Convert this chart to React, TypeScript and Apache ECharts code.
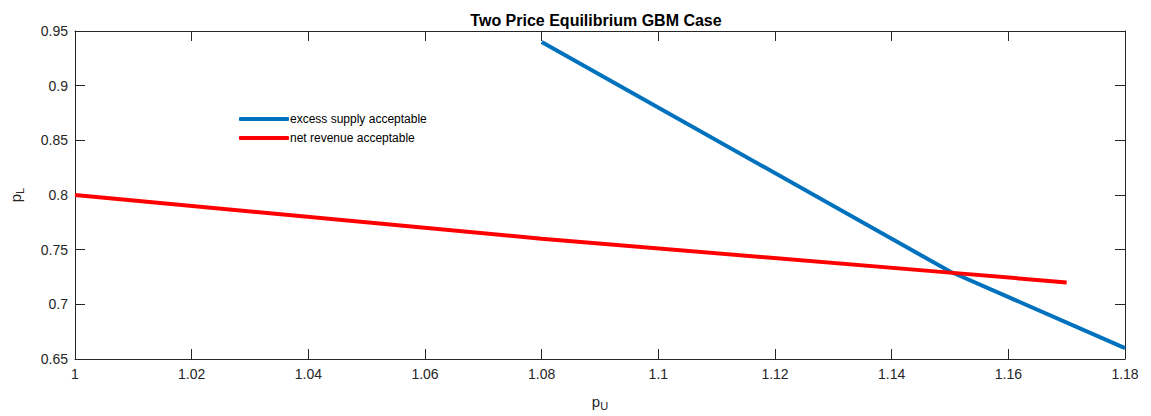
import React, { useEffect, useRef } from "react";
import * as echarts from "echarts";

// Upper price p_U (x) and lower price p_L (y) for each acceptability curve
const supplyPU = [1.08, 1.15, 1.18];
const supplyPL = [0.94, 0.73, 0.66];
const revenuePU = [1.0, 1.08, 1.15, 1.17];
const revenuePL = [0.8, 0.76, 0.729, 0.72];

const xTicks = { min: 1, max: 1.18, interval: 0.02 };
const yTicks = { min: 0.65, max: 0.95, interval: 0.05 };

const FONT = "'Liberation Sans', Arial, Helvetica, sans-serif";
const AXIS_COLOR = "#262626";

export default function App() {
  const ref = useRef<HTMLDivElement>(null);

  useEffect(() => {
    if (!ref.current) return;
    const chart = echarts.init(ref.current, undefined, { renderer: "svg" });

    const axisLine = { show: true, lineStyle: { color: AXIS_COLOR, width: 1 } };
    const axisTick = { show: true, inside: true, length: 10, lineStyle: { color: AXIS_COLOR, width: 1 } };
    const axisLabel = { color: AXIS_COLOR, fontSize: 14, fontFamily: FONT };
    const nameRich = {
      b: { fontSize: 15, color: AXIS_COLOR, fontFamily: FONT },
      s: { fontSize: 11, color: AXIS_COLOR, fontFamily: FONT, verticalAlign: "bottom", padding: [8, 0, 0, 0] },
    };

    chart.setOption({
      animation: false,
      backgroundColor: "#ffffff",
      textStyle: { fontFamily: FONT },
      title: {
        text: "Two Price Equilibrium GBM Case",
        left: 591,
        textAlign: "center",
        top: 7,
        textStyle: { fontSize: 16, fontWeight: "bold", color: "#000", fontFamily: FONT },
      },
      legend: {
        orient: "vertical",
        left: 234,
        top: 108,
        itemWidth: 50,
        itemHeight: 4,
        itemGap: 7,
        icon: "roundRect",
        textStyle: { fontSize: 12, color: "#000", fontFamily: FONT, padding: [0, 0, 0, -4] },
        data: ["excess supply acceptable", "net revenue acceptable"],
      },
      grid: { left: 73, right: 26, top: 31, bottom: 57 },
      xAxis: [
        {
          type: "value",
          ...xTicks,
          position: "bottom",
          axisLine,
          axisTick,
          axisLabel: { ...axisLabel, margin: 8 },
          splitLine: { show: false },
          name: "{b|p}{s|U}",
          nameLocation: "middle",
          nameGap: 33,
          nameTextStyle: { rich: nameRich },
        },
        {
          type: "value",
          ...xTicks,
          position: "top",
          axisLine,
          axisTick,
          axisLabel: { show: false },
          splitLine: { show: false },
        },
      ],
      yAxis: [
        {
          type: "value",
          ...yTicks,
          position: "left",
          axisLine,
          axisTick,
          axisLabel: { ...axisLabel, margin: 7 },
          splitLine: { show: false },
          name: "{b|p}{s|L}",
          nameLocation: "middle",
          nameGap: 50,
          nameRotate: 90,
          nameTextStyle: { rich: nameRich },
        },
        {
          type: "value",
          ...yTicks,
          position: "right",
          axisLine,
          axisTick,
          axisLabel: { show: false },
          splitLine: { show: false },
        },
      ],
      series: [
        {
          name: "excess supply acceptable",
          type: "line",
          data: supplyPU.map((x, i) => [x, supplyPL[i]]),
          showSymbol: false,
          symbol: "none",
          lineStyle: { color: "#0072BD", width: 4 },
          itemStyle: { color: "#0072BD" },
        },
        {
          name: "net revenue acceptable",
          type: "line",
          data: revenuePU.map((x, i) => [x, revenuePL[i]]),
          showSymbol: false,
          symbol: "none",
          lineStyle: { color: "#FF0000", width: 4 },
          itemStyle: { color: "#FF0000" },
        },
      ],
    });

    return () => chart.dispose();
  }, []);

  return <div ref={ref} style={{ width: 1151, height: 416, position: "absolute", left: 0, top: 0 }} />;
}
